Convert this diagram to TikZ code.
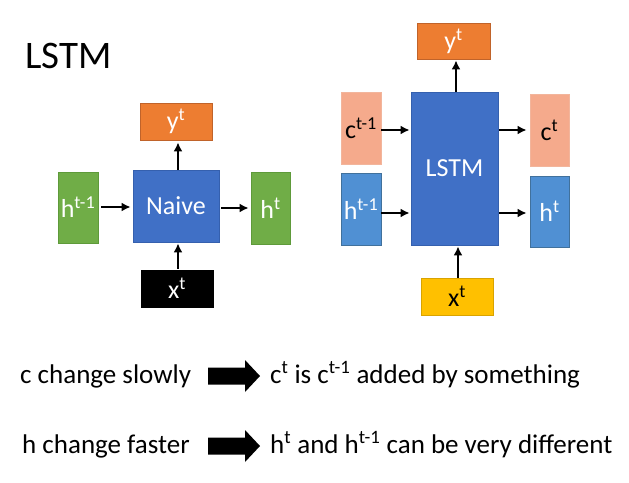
\documentclass[tikz,border=0pt]{standalone}
\usepackage{fontspec}
\setmainfont{Carlito}
\usetikzlibrary{arrows.meta}
\definecolor{yorange}{HTML}{ED7D31}
\definecolor{yorangeb}{HTML}{C0632A}
\definecolor{naiveblue}{HTML}{4070C6}
\definecolor{naiveblueb}{HTML}{3560AE}
\definecolor{hgreen}{HTML}{70AD47}
\definecolor{hgreenb}{HTML}{5E9A3A}
\definecolor{csalmon}{HTML}{F5AA8C}
\definecolor{csalmonb}{HTML}{F2B59C}
\definecolor{hlblue}{HTML}{5090D3}
\definecolor{hlblueb}{HTML}{41719C}
\definecolor{xgold}{HTML}{FFC000}
\definecolor{xgoldb}{HTML}{D9A300}
\tikzset{
  box/.style={rectangle, inner sep=0pt, line width=0.8pt, font=\fontsize{26}{28}\selectfont},
  arr/.style={-{Latex[length=9pt,width=9pt]}, line width=2.8pt, black},
  txt/.style={anchor=base west, inner sep=0pt, font=\fontsize{27}{30}\selectfont},
  bigarrow/.pic={\fill[black] (-26,-8.5) -- (11,-8.5) -- (11,-16) -- (26,0) -- (11,16) -- (11,8.5) -- (-26,8.5) -- cycle;}
}
\begin{document}
\begin{tikzpicture}[x=1pt,y=-1pt]
\useasboundingbox (0,0) rectangle (629,482);
\fill[white] (0,0) rectangle (629,482);
% title
\node[anchor=base west, inner sep=0pt, font=\fontsize{39}{42}\selectfont] (title) at (25,68) {LSTM};
% Naive diagram
\node[box, fill=yorange, draw=yorangeb, minimum width=72pt, minimum height=37pt, text=white] (yN) at (176,121.5) {y\textsuperscript{t}};
\node[box, fill=naiveblue, draw=naiveblueb, minimum width=86pt, minimum height=72pt, text=white] (naive) at (176,206) {Naive};
\node[box, fill=hgreen, draw=hgreenb, minimum width=40pt, minimum height=71pt, text=white] (hprevN) at (78,207.5) {h\textsuperscript{t-1}};
\node[box, fill=hgreen, draw=hgreenb, minimum width=39pt, minimum height=72pt, text=white] (hN) at (270.5,208) {h\textsuperscript{t}};
\node[box, fill=black, draw=black, minimum width=72pt, minimum height=37pt, text=white] (xN) at (177,288.5) {x\textsuperscript{t}};
\draw[arr, shorten <=3pt, shorten >=2pt] (hprevN.east |- 0,207) -- (naive.west |- 0,207);
\draw[arr, shorten <=2pt, shorten >=2pt] (naive.east |- 0,208) -- (hN.west |- 0,208);
\draw[arr, shorten >=2pt] (naive.north -| 178,0) -- (yN.south -| 178,0);
\draw[arr, shorten <=1pt, shorten >=1pt] (xN.north -| 178,0) -- (naive.south -| 178,0);
% LSTM diagram
\node[box, fill=yorange, draw=yorangeb, minimum width=73pt, minimum height=36pt, text=white] (yL) at (453.5,41) {y\textsuperscript{t}};
\node[box, fill=naiveblue, draw=naiveblueb, minimum width=87pt, minimum height=153pt, text=white] (lstm) at (454.5,168.5) {LSTM};
\node[box, fill=csalmon, draw=csalmonb, minimum width=40pt, minimum height=72pt, text=black] (cprev) at (361,128) {c\textsuperscript{t-1}};
\node[box, fill=hlblue, draw=hlblueb, minimum width=40pt, minimum height=72pt, text=white] (hprev) at (361,209) {h\textsuperscript{t-1}};
\node[box, fill=csalmon, draw=csalmonb, minimum width=39pt, minimum height=72pt, text=black] (cL) at (549.5,130) {c\textsuperscript{t}};
\node[box, fill=hlblue, draw=hlblueb, minimum width=39pt, minimum height=71pt, text=white] (hL) at (549.5,211.5) {h\textsuperscript{t}};
\node[box, fill=xgold, draw=xgoldb, minimum width=72pt, minimum height=37pt, text=black] (xL) at (457,296.5) {x\textsuperscript{t}};
\draw[arr, shorten >=1pt] (cprev.east |- 0,130) -- (lstm.west |- 0,130);
\draw[arr, shorten >=1pt] (hprev.east |- 0,213) -- (lstm.west |- 0,213);
\draw[arr, shorten <=1pt, shorten >=3pt] (lstm.east |- 0,130) -- (cL.west |- 0,130);
\draw[arr, shorten <=1pt, shorten >=3pt] (lstm.east |- 0,213) -- (hL.west |- 0,213);
\draw[arr, shorten >=1pt] (lstm.north -| 456,0) -- (yL.south -| 456,0);
\draw[arr, shorten >=1pt] (xL.north -| 458,0) -- (lstm.south -| 458,0);
% bottom statements
\node[txt] (s1) at (20,383) {c change slowly};
\pic at (234,376) {bigarrow};
\node[txt] (r1) at (270,383) {c\textsuperscript{t} is c\textsuperscript{t-1} added by something};
\node[txt] (s2) at (22,453) {h change faster};
\pic at (234,446) {bigarrow};
\node[txt] (r2) at (270,453) {h\textsuperscript{t} and h\textsuperscript{t-1} can be very different};
\end{tikzpicture}
\end{document}
